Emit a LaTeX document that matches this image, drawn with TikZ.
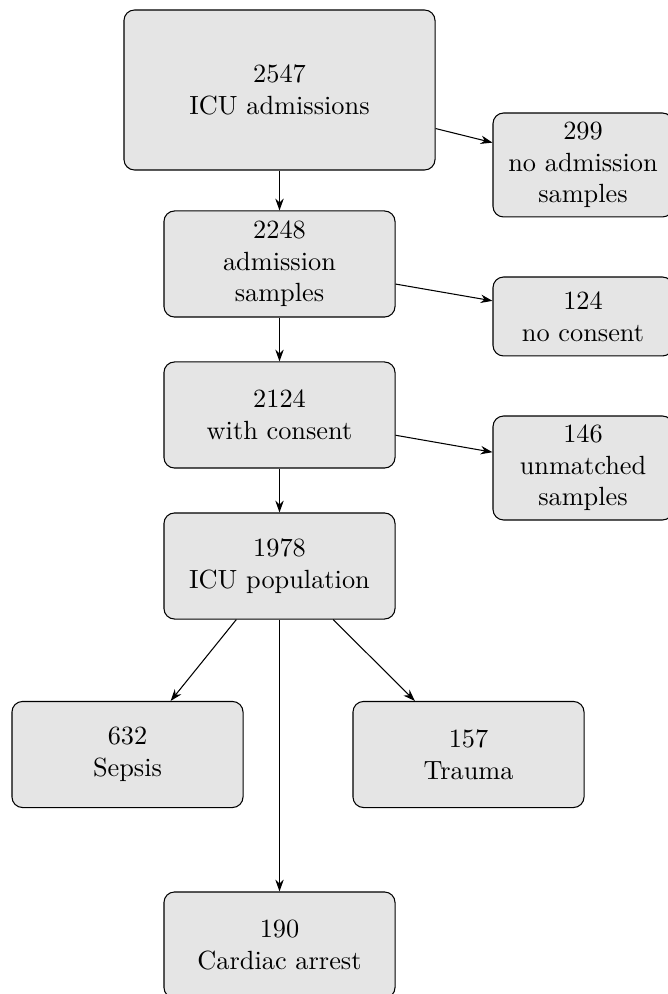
\documentclass[tikz,border=0pt]{standalone}
\usetikzlibrary{arrows.meta}
\begin{document}
\begin{tikzpicture}[x=0.38pt,y=-0.38pt,
  box/.style={draw=black, fill=black!10, rounded corners=4pt, align=center, inner sep=0pt, line width=0.4pt},
  arr/.style={-{Stealth[length=4.5pt,width=3.2pt]}, line width=0.4pt}]
\useasboundingbox (0,0) rectangle (667,994);
\node[box, minimum width=118.2pt, minimum height=60.8pt] (A) at (279.5,90) {2547\\ICU admissions};
\node[box, minimum width=68.4pt, minimum height=39.5pt] (B) at (583,165) {299\\no admission\\samples};
\node[box, minimum width=87.8pt, minimum height=40.3pt] (C) at (279.5,264) {2248\\admission\\samples};
\node[box, minimum width=68.4pt, minimum height=30pt] (D) at (583,316.5) {124\\no consent};
\node[box, minimum width=87.8pt, minimum height=40.3pt] (E) at (279.5,415) {2124\\with consent};
\node[box, minimum width=68.4pt, minimum height=39.5pt] (F) at (583,468) {146\\unmatched\\samples};
\node[box, minimum width=87.8pt, minimum height=40.3pt] (G) at (279.5,566) {1978\\ICU population};
\node[box, minimum width=87.8pt, minimum height=40.3pt] (H) at (127.5,754.5) {632\\Sepsis};
\node[box, minimum width=87.8pt, minimum height=40.3pt] (I) at (468.5,754.5) {157\\Trauma};
\node[box, minimum width=87.8pt, minimum height=40.3pt] (J) at (279.5,945) {190\\Cardiac arrest};
\draw[arr] (A) -- (B);
\draw[arr] (A) -- (C);
\draw[arr] (C) -- (D);
\draw[arr] (C) -- (E);
\draw[arr] (E) -- (F);
\draw[arr] (E) -- (G);
\draw[arr] (G) -- (H);
\draw[arr] (G) -- (I);
\draw[arr] (G) -- (J);
\end{tikzpicture}
\end{document}
